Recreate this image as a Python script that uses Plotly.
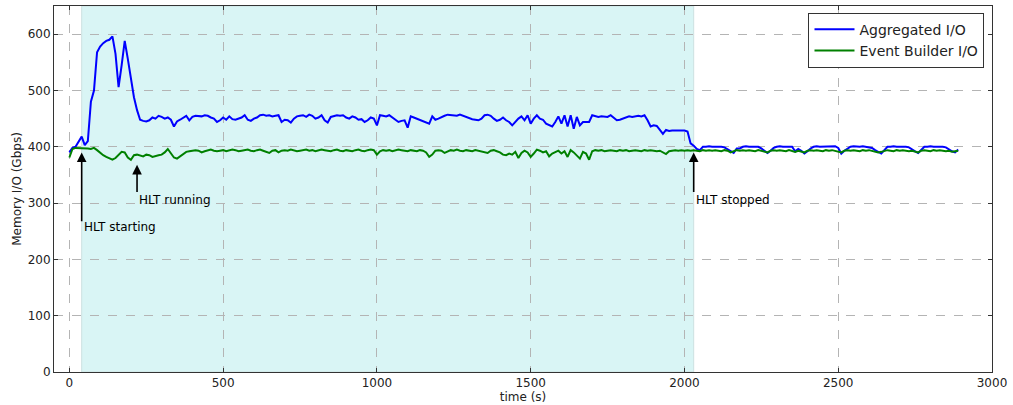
import plotly.graph_objects as go

time_s = list(range(0, 2891, 10))

aggregated_io = [
    390, 398, 400, 410, 418, 403, 410, 480, 500, 568,
    578, 584, 588, 590, 596, 565, 506, 545, 588, 556,
    518, 488, 465, 448, 446, 445, 447, 452, 450, 455,
    453, 450, 452, 448, 436, 445, 448, 452, 455, 447,
    453, 455, 455, 454, 456, 455, 452, 450, 444, 447,
    452, 448, 454, 449, 448, 450, 452, 456, 448, 446,
    450, 452, 456, 457, 455, 456, 454, 455, 456, 444,
    448, 447, 443, 450, 454, 455, 456, 453, 457, 455,
    450, 452, 456, 447, 443, 453, 455, 456, 455, 456,
    452, 450, 454, 452, 448, 449, 444, 447, 452, 450,
    438, 456, 455, 454, 456, 452, 448, 444, 446, 447,
    434, 454, 452, 450, 448, 446, 444, 441, 454, 448,
    450, 453, 455, 457, 456, 456, 455, 457, 455, 452,
    451, 449, 448, 447, 450, 456, 457, 455, 450, 446,
    448, 452, 447, 444, 438, 444, 450, 454, 447, 456,
    441, 450, 456, 450, 448, 441, 438, 436, 444, 454,
    441, 456, 436, 456, 432, 453, 438, 444, 444, 444,
    456, 455, 453, 454, 453, 453, 456, 452, 447, 448,
    450, 451, 454, 453, 454, 455, 454, 456, 447, 436,
    438, 437, 430, 423, 430, 428, 429, 429, 428, 429,
    429, 427, 406, 402, 396, 394, 400, 400, 401, 400,
    400, 401, 400, 399, 396, 392, 389, 397, 397, 400,
    401, 400, 400, 401, 400, 397, 393, 389, 393, 398,
    400, 401, 400, 400, 401, 400, 392, 396, 393, 388,
    392, 397, 400, 401, 400, 400, 401, 400, 400, 401,
    398, 388, 393, 396, 400, 401, 400, 400, 401, 400,
    400, 398, 394, 391, 388, 394, 400, 400, 401, 400,
    400, 401, 400, 399, 395, 392, 389, 394, 400, 400,
    401, 400, 400, 401, 400, 399, 395, 392, 390, 395,
]

event_builder_io = [
    381, 396, 398, 398, 397, 398, 397, 396, 398, 394,
    389, 385, 382, 379, 377, 380, 385, 391, 390, 381,
    377, 385, 386, 384, 383, 386, 385, 382, 384, 385,
    386, 390, 396, 388, 381, 379, 383, 388, 391, 392,
    393, 394, 393, 390, 392, 394, 395, 393, 392, 393,
    394, 392, 393, 395, 394, 392, 393, 394, 395, 393,
    392, 394, 395, 393, 391, 389, 393, 394, 390, 393,
    394, 393, 395, 394, 392, 393, 394, 395, 393, 394,
    392, 393, 395, 394, 393, 392, 394, 395, 393, 392,
    394, 393, 392, 394, 395, 393, 392, 394, 395, 394,
    386, 392, 394, 393, 394, 392, 393, 395, 394, 393,
    392, 394, 393, 392, 394, 393, 390, 382, 386, 393,
    394, 393, 389, 392, 394, 393, 395, 393, 392, 394,
    393, 392, 394, 393, 392, 390, 389, 393, 394, 392,
    390, 386, 385, 388, 386, 391, 380, 389, 393, 390,
    382, 388, 395, 393, 390, 392, 383, 388, 391, 393,
    388, 392, 382, 394, 390, 385, 379, 391, 388, 377,
    392, 394, 393, 394, 392, 393, 394, 393, 392, 394,
    393, 394, 392, 393, 394, 393, 392, 394, 393, 394,
    393, 392, 393, 390, 387, 392, 393, 394, 393, 394,
    393, 394, 393, 394, 393, 392, 394, 393, 394, 393,
    394, 393, 392, 394, 393, 390, 392, 394, 393, 394,
    393, 394, 393, 392, 394, 393, 391, 390, 393, 394,
    393, 394, 393, 392, 394, 393, 391, 393, 392, 390,
    393, 394, 393, 394, 393, 392, 394, 393, 394, 393,
    392, 390, 393, 394, 393, 394, 393, 392, 394, 393,
    394, 393, 392, 390, 391, 393, 394, 393, 392, 394,
    393, 394, 393, 392, 393, 391, 390, 393, 394, 393,
    392, 394, 393, 394, 393, 392, 393, 391, 392, 393,
]

hlt_window = [40, 2030]
x_ticks = [0, 500, 1000, 1500, 2000, 2500, 3000]
y_ticks = [0, 100, 200, 300, 400, 500, 600]

notes = [
    # (label, x, head_y, tail_y, text_y)
    ("HLT starting", 40, 390, 265, 257),
    ("HLT running", 220, 368, 317, 305),
    ("HLT stopped", 2030, 390, 317, 305),
]

FONT = "DejaVu Sans"

fig = go.Figure()
fig.add_trace(go.Scatter(x=time_s, y=aggregated_io, mode="lines",
                         name="Aggregated I/O",
                         line=dict(color="#0000ff", width=2)))
fig.add_trace(go.Scatter(x=time_s, y=event_builder_io, mode="lines",
                         name="Event Builder I/O",
                         line=dict(color="#008000", width=2)))

fig.add_shape(type="rect", xref="x", yref="paper",
              x0=hlt_window[0], x1=hlt_window[1], y0=0, y1=1,
              fillcolor="rgb(217,245,245)", line=dict(color="rgb(205,225,225)", width=1),
              layer="below")

annotations = []
for label, x, hy, ty, txy in notes:
    annotations.append(dict(x=x, y=hy, ax=x, ay=ty, xref="x", yref="y",
                            axref="x", ayref="y", text="", showarrow=True,
                            arrowhead=2, arrowsize=1.2, arrowwidth=1.6,
                            arrowcolor="black", standoff=0, startstandoff=0))
    annotations.append(dict(x=x, y=txy, xref="x", yref="y", text=label,
                            showarrow=False, xanchor="left", yanchor="middle",
                            font=dict(family=FONT, size=12, color="black")))

axis_common = dict(
    showline=True, mirror="ticks", linecolor="#333333", linewidth=1,
    ticks="inside", ticklen=4, tickcolor="#333333",
    showgrid=True, gridcolor="#b4b4b4", griddash="dash", gridwidth=1,
    zeroline=False, automargin=False,
    tickfont=dict(family=FONT, size=12, color="#222222"),
)

fig.update_layout(
    width=1013, height=405,
    margin=dict(l=54, r=21, t=6, b=33),
    paper_bgcolor="white", plot_bgcolor="white",
    font=dict(family=FONT, size=12, color="#222222"),
    xaxis=dict(range=[-50, 3000], tickvals=x_ticks,
               title=dict(text="time (s)", standoff=1,
                          font=dict(family=FONT, size=12)),
               **axis_common),
    yaxis=dict(range=[0, 650], tickvals=y_ticks,
               title=dict(text="Memory I/O (Gbps)", standoff=3,
                          font=dict(family=FONT, size=12)),
               **axis_common),
    legend=dict(x=0.992, y=0.982, xanchor="right", yanchor="top",
                bgcolor="white", bordercolor="#333333", borderwidth=1,
                font=dict(family=FONT, size=14, color="#222222"),
                itemwidth=40, tracegroupgap=0),
    showlegend=True,
    annotations=annotations,
)

fig.write_html("out.html", config={"displayModeBar": False},
               post_script="document.body.style.margin='0';document.body.style.padding='0';")
